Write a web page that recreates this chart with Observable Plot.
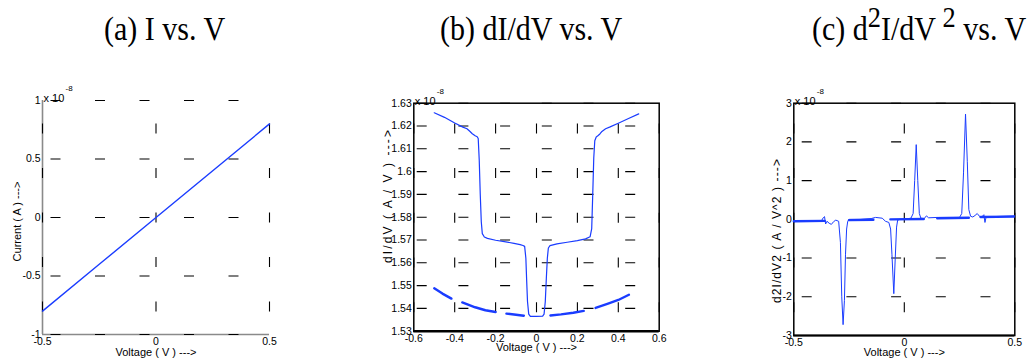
<!DOCTYPE html>
<html><head><meta charset="utf-8">
<script src="https://cdn.jsdelivr.net/npm/d3@7"></script>
<script src="https://cdn.jsdelivr.net/npm/@observablehq/plot@0.6"></script>
<style>
body{margin:0;background:#fff;}
#wrap{position:relative;width:1033px;height:362px;overflow:hidden;background:#fff;}
.title{position:absolute;top:12px;font-family:"Liberation Serif","Times New Roman",serif;font-size:30px;white-space:nowrap;line-height:1;color:#000;transform:scaleY(1.1);transform-origin:left top;}
.title sup{font-size:0.88em;line-height:0;vertical-align:0.42em;}
.panel{position:absolute;top:80px;}
</style></head>
<body><div id="wrap">
<div class="title" style="left:104px">(a) I vs. V</div>
<div class="title" style="left:440px">(b) dI/dV vs. V</div>
<div class="title" style="left:812px">(c) d<sup>2</sup>I/dV<sup> 2</sup> vs. V</div>
<div class="panel" id="pa" style="left:0px"></div>
<div class="panel" id="pb" style="left:370px"></div>
<div class="panel" id="pc" style="left:750px"></div>
</div>
<script>
// ---------- data (currents in units of 1e-8) ----------
const aV = [-0.5, -0.25, 0, 0.25, 0.5];
const aI = [-0.8, -0.4, 0, 0.4, 0.8];
const aXTicks = [-0.5, 0, 0.5];
const aYTicks = [-1, -0.5, 0, 0.5, 1];

// (b) dI/dV measured curve
const bV = [-0.5,-0.45,-0.4,-0.36,-0.34,-0.325,-0.314,-0.3,-0.29,-0.285,-0.28,-0.275,-0.27,-0.265,-0.255,-0.24,-0.2,-0.15,-0.11,-0.08,-0.066,-0.058,-0.052,-0.048,-0.044,-0.038,-0.03,0,0.03,0.037,0.043,0.048,0.053,0.058,0.066,0.1,0.15,0.2,0.24,0.262,0.27,0.275,0.28,0.285,0.292,0.3,0.31,0.32,0.338,0.36,0.4,0.45,0.5];
const bG = [1.6258,1.6238,1.6213,1.6195,1.6188,1.6176,1.6166,1.6157,1.6153,1.6145,1.605,1.59,1.578,1.5728,1.5713,1.5707,1.5699,1.5692,1.5685,1.568,1.5676,1.5672,1.562,1.552,1.543,1.5375,1.5365,1.5365,1.5366,1.5375,1.543,1.553,1.562,1.5665,1.5675,1.5683,1.569,1.5697,1.5705,1.5714,1.575,1.59,1.606,1.6135,1.6152,1.6157,1.6165,1.6176,1.6188,1.6196,1.6212,1.6233,1.6253];
// (b) background (thick, broken) curve
const bBgSeg = [1,1,1, 2,2,2,2, 3,3,3, 4,4,4,4, 5,5,5,5];
const bBgV = [-0.5,-0.46,-0.416, -0.363,-0.3,-0.25,-0.2, -0.147,-0.1,-0.062, 0.068,0.12,0.18,0.231, 0.289,0.35,0.4,0.452];
const bBgG = [1.5488,1.5465,1.5443, 1.5426,1.5405,1.5392,1.5384, 1.5377,1.5372,1.5368, 1.5369,1.5374,1.5381,1.5389, 1.5402,1.5421,1.5437,1.5460];
const bXTicks = [-0.6,-0.4,-0.2,0,0.2,0.4,0.6];
const bYTicks = [1.53,1.54,1.55,1.56,1.57,1.58,1.59,1.6,1.61,1.62,1.63];

// (c) d2I/dV2 measured curve
const cV = [-0.5,-0.45,-0.4,-0.375,-0.367,-0.361,-0.356,-0.35,-0.34,-0.33,-0.32,-0.31,-0.297,-0.289,-0.283,-0.277,-0.271,-0.266,-0.261,-0.256,-0.25,-0.2,-0.15,-0.13,-0.1,-0.085,-0.07,-0.062,-0.056,-0.0475,-0.041,-0.035,-0.03,-0.02,0,0.03,0.04,0.047,0.054,0.061,0.068,0.075,0.09,0.1,0.11,0.15,0.2,0.25,0.26,0.268,0.277,0.285,0.292,0.3,0.31,0.32,0.33,0.34,0.35,0.36,0.365,0.37,0.4,0.45,0.5];
const cD = [-0.05,-0.05,-0.04,-0.04,0.04,0.07,-0.12,-0.05,-0.1,-0.13,-0.06,-0.02,-0.05,-0.6,-2.0,-2.72,-2.1,-0.9,-0.25,-0.05,0,0,0.02,0.05,0.03,-0.05,-0.08,-0.25,-0.9,-1.92,-1.0,-0.2,-0.02,0,0,0.03,0.15,1.0,1.93,1.0,0.15,0.03,0.02,0.09,0.04,0.05,0.05,0.05,0.15,1.2,2.72,1.5,0.25,0.08,0.06,0.1,0.15,0.08,0.06,0.12,-0.08,0.06,0.07,0.08,0.09];
// (c) background (thick, broken) curve
const cBgSeg = [1,1, 2,2, 3,3, 4,4, 5,5];
const cBgV = [-0.5,-0.36, -0.25,-0.14, -0.063,0.088, 0.149,0.292, 0.345,0.495];
const cBgD = [-0.05,-0.04, -0.02,-0.01, 0.0,0.01, 0.03,0.04, 0.06,0.07];
const cXTicks = [-0.5,0,0.5];
const cYTicks = [-3,-2,-1,0,1,2,3];

// ---------- helpers ----------
const BLUE = "#1a3cff";
const FONT = "Liberation Sans, Arial, Helvetica, sans-serif";
const fmt = d => String(Math.round(d*100)/100);
const zip2 = (xs, ys, extra) => xs.map((x,i) => ({x, y: ys[i], s: extra ? extra[i] : 0}));
const gridStyle = {stroke:"#000", strokeOpacity:1, strokeWidth:1.1};

function labels({xl, yl, ydx, ydy, xdy}) {
  return [
    Plot.text([xl], {frameAnchor:"bottom", text:d=>d, dy:xdy, fontSize:11, lineAnchor:"middle"}),
    Plot.text([yl], {frameAnchor:"left", text:d=>d, rotate:-90, dx:ydx, dy:ydy, fontSize:11, textAnchor:"middle", lineAnchor:"middle", className:"ylab"}),
    Plot.text(["x 10"], {frameAnchor:"top-left", text:d=>d, textAnchor:"start", dx:1, dy:-6.5, fontSize:11}),
    Plot.text(["-8"], {frameAnchor:"top-left", text:d=>d, textAnchor:"start", dx:23, dy:-15, fontSize:8})
  ];
}

// ---------- (a) ----------
const A = Plot.plot({
  width:280, height:282, marginLeft:42, marginRight:11, marginTop:20, marginBottom:28,
  style:{fontFamily:FONT, fontSize:"10.5px", background:"white", overflow:"visible"},
  x:{domain:[-0.5,0.5], label:null}, y:{domain:[-1,1], label:null},
  marks:[
    Plot.ruleX([-0.5], {stroke:"#8a8a8a", strokeWidth:1.6}),
    Plot.ruleY([-1], {stroke:"#8a8a8a", strokeWidth:1.6}),
    Plot.gridX(aXTicks, {...gridStyle, strokeDasharray:"10,34.5", strokeDashoffset:21}),
    Plot.gridY(aYTicks, {...gridStyle, strokeDasharray:"10,34.5", strokeDashoffset:36}),
    Plot.axisX(aXTicks, {tickSize:0, tickPadding:3, tickFormat:fmt, label:null}),
    Plot.axisY(aYTicks, {tickSize:0, tickPadding:2, tickFormat:fmt, label:null}),
    Plot.line(zip2(aV, aI), {x:"x", y:"y", stroke:BLUE, strokeWidth:1.4}),
    ...labels({xl:"Voltage ( V ) --->", yl:"Current ( A ) --->", ydx:-25, ydy:4, xdy:17.5})
  ]
});
document.getElementById("pa").appendChild(A);

// ---------- (b) ----------
const B = Plot.plot({
  width:300, height:282, marginLeft:43.3, marginRight:11.3, marginTop:22.7, marginBottom:31.3,
  style:{fontFamily:FONT, fontSize:"10.5px", background:"white", overflow:"visible"},
  x:{domain:[-0.6,0.6], label:null}, y:{domain:[1.53,1.63], label:null},
  marks:[
    Plot.gridX(bXTicks, {...gridStyle, strokeDasharray:"10,34.7", strokeDashoffset:24}),
    Plot.gridY(bYTicks, {...gridStyle, strokeDasharray:"10,31.7", strokeDashoffset:38.3}),
    Plot.frame({stroke:"#000", strokeWidth:1.5}),
    Plot.ruleY([1.53], {stroke:"#000", strokeWidth:2.5}),
    Plot.axisX(bXTicks, {tickSize:0, tickPadding:3, tickFormat:fmt, label:null}),
    Plot.axisY(bYTicks, {tickSize:0, tickPadding:2, tickFormat:fmt, label:null}),
    Plot.line(zip2(bBgV, bBgG, bBgSeg), {x:"x", y:"y", z:"s", stroke:BLUE, strokeWidth:2.4}),
    Plot.line(zip2(bV, bG), {x:"x", y:"y", stroke:BLUE, strokeWidth:1.2}),
    ...labels({xl:"Voltage ( V ) --->", yl:"dI/dV ( A / V ) --->", ydx:-25.3, ydy:-21.7, xdy:16})
  ]
});
document.getElementById("pb").appendChild(B);

// ---------- (c) ----------
const C = Plot.plot({
  width:283, height:282, marginLeft:43.3, marginRight:18.7, marginTop:22.7, marginBottom:27,
  style:{fontFamily:FONT, fontSize:"10.5px", background:"white", overflow:"visible"},
  x:{domain:[-0.5,0.5], label:null}, y:{domain:[-3,3], label:null},
  marks:[
    Plot.gridX(cXTicks, {...gridStyle, strokeDasharray:"10,34.7", strokeDashoffset:24}),
    Plot.gridY(cYTicks.filter(d=>d!==0), {...gridStyle, strokeDasharray:"10,34.7", strokeDashoffset:36.3}),
    Plot.frame({stroke:"#000", strokeWidth:1.5}),
    Plot.ruleY([-3], {stroke:"#000", strokeWidth:2.2}),
    Plot.axisX(cXTicks, {tickSize:0, tickPadding:3, tickFormat:fmt, label:null}),
    Plot.axisY(cYTicks, {tickSize:0, tickPadding:2, tickFormat:fmt, label:null}),
    Plot.line(zip2(cBgV, cBgD, cBgSeg), {x:"x", y:"y", z:"s", stroke:BLUE, strokeWidth:2.4}),
    Plot.line(zip2(cV, cD), {x:"x", y:"y", stroke:BLUE, strokeWidth:1}),
    ...labels({xl:"Voltage ( V ) --->", yl:"d2I/dV2 ( A / V^2 ) --->", ydx:-16.3, ydy:11.2, xdy:16.7})
  ]
});
document.getElementById("pc").appendChild(C);

// widen the spacing of the longer y labels (b, c) as in the reference
d3.select(B).selectAll("g.ylab text").style("letter-spacing", "2.1px").style("font-size", "12px");
d3.select(C).selectAll("g.ylab text").style("letter-spacing", "1.1px").style("font-size", "12px");
</script>
</body></html>
